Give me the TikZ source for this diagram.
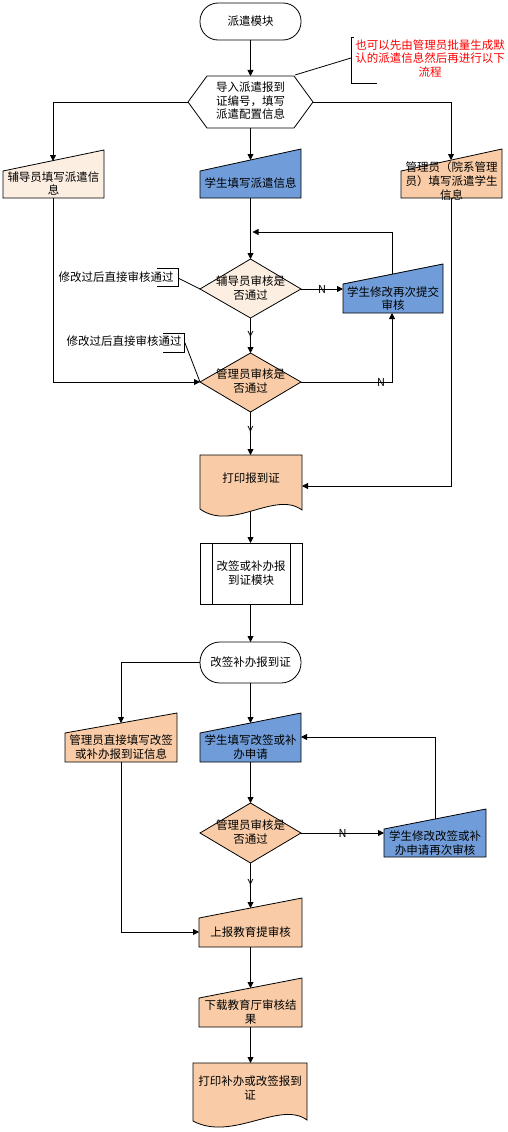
\documentclass[tikz,border=0pt]{standalone}
\usepackage{fontspec}
\newfontfamily\cjk{Noto Sans CJK SC}
\usetikzlibrary{arrows.meta}
\definecolor{sblue}{RGB}{112,157,217}
\definecolor{speach}{RGB}{249,204,167}
\definecolor{slight}{RGB}{253,238,226}
\begin{document}
\begin{tikzpicture}[x=1pt,y=-1pt,
  shp/.style={draw=black,line width=0.8pt},
  txt/.style={align=center,font=\cjk\fontsize{11.5}{13.6}\selectfont,inner sep=0pt},
  yn/.style={font=\cjk\fontsize{11}{12}\selectfont,inner sep=0.5pt},
  ln/.style={line width=0.8pt},
  arr/.style={line width=0.8pt,-{Triangle[length=6pt,width=6pt]}}]
\useasboundingbox (0,0) rectangle (507,1132);
\fill[white] (0,0) rectangle (507,1132);

% ---------- shapes ----------
% start terminal
\filldraw[shp,fill=white,rounded corners=18pt] (200,3) rectangle (301,40);
\node[txt] (tstart) at (250.5,21.5) {派遣模块};
% hexagon
\filldraw[shp,fill=white] (188,102) -- (207,76) -- (294,76) -- (313,102) -- (294,128) -- (207,128) -- cycle;
\node[txt] (thex) at (250.5,101) {导入派遣报到\\证编号，填写\\派遣配置信息};
% red note
\draw[ln] (354,37) -- (351,37) -- (351,83) -- (377,83);
\node[txt,text=red] (tnote) at (430,58.5) {也可以先由管理员批量生成默\\认的派遣信息然后再进行以下\\流程};
% three input boxes
\filldraw[shp,fill=slight] (3,171) -- (104,150) -- (104,198) -- (3,198) -- cycle;
\node[txt] (tfdy) at (53.5,183.5) {辅导员填写派遣信\\息};
\filldraw[shp,fill=sblue] (200,171) -- (301,149) -- (301,198) -- (200,198) -- cycle;
\node[txt] (tstu) at (250.5,183.5) {学生填写派遣信息};
\filldraw[shp,fill=speach] (401,171) -- (502,149) -- (502,198) -- (401,198) -- cycle;
\node[txt] (tadm) at (451.5,181) {管理员（院系管理\\员）填写派遣学生\\信息};
% diamond 1
\filldraw[shp,fill=slight] (200,289) -- (250.5,259) -- (301,289) -- (250.5,318) -- cycle;
\node[txt] (td1) at (250.5,288) {辅导员审核是\\否通过};
% resubmit box
\filldraw[shp,fill=sblue] (343,284) -- (443,264) -- (443,313) -- (343,313) -- cycle;
\node[txt] (tres) at (393,298.5) {学生修改再次提交\\审核};
% diamond 2
\filldraw[shp,fill=speach] (200,382) -- (250.5,353) -- (301,382) -- (250.5,412) -- cycle;
\node[txt] (td2) at (250.5,381) {管理员审核是\\否通过};
% annotations
\draw[ln] (157,268) -- (178,268) -- (178,286) -- (157,286);
\node[txt] (tann1) at (116,277) {修改过后直接审核通过};
\draw[ln] (163,333) -- (184,333) -- (184,352) -- (163,352);
\node[txt] (tann2) at (124,341) {修改过后直接审核通过};
% document 1
\filldraw[shp,fill=speach] (200,455) -- (302,455) -- (302,510) .. controls (275,490) and (232,532) .. (200,509) -- cycle;
\node[txt] (tdoc1) at (251,478) {打印报到证};
% subprocess
\filldraw[shp,fill=white] (200,543) rectangle (302,604);
\draw[ln] (212,543) -- (212,604);
\draw[ln] (290,543) -- (290,604);
\node[txt] (tsub) at (251,573) {改签或补办报\\到证模块};
% terminal 2
\filldraw[shp,fill=white,rounded corners=20pt] (200,642) rectangle (301,683);
\node[txt] (tterm2) at (250.5,662.5) {改签补办报到证};
% boxes row 2
\filldraw[shp,fill=speach] (65,733) -- (177,713) -- (177,762) -- (65,762) -- cycle;
\node[txt] (tadm2) at (121,747) {管理员直接填写改签\\或补办报到证信息};
\filldraw[shp,fill=sblue] (200,733) -- (301,713) -- (301,762) -- (200,762) -- cycle;
\node[txt] (tstu2) at (250.5,747) {学生填写改签或补\\办申请};
% diamond 3
\filldraw[shp,fill=speach] (200,833) -- (250.5,803) -- (301,833) -- (250.5,863) -- cycle;
\node[txt] (td3) at (250.5,832) {管理员审核是\\否通过};
\filldraw[shp,fill=sblue] (384,829) -- (486,809) -- (486,857) -- (384,857) -- cycle;
\node[txt] (tres2) at (435,843) {学生修改改签或补\\办申请再次审核};
% report boxes
\filldraw[shp,fill=speach] (199,918) -- (302,898) -- (302,947) -- (199,947) -- cycle;
\node[txt] (trep) at (250.5,932) {上报教育提审核};
\filldraw[shp,fill=speach] (199,998) -- (302,978) -- (302,1027) -- (199,1027) -- cycle;
\node[txt] (tdown) at (250.5,1012) {下载教育厅审核结\\果};
% document 2
\filldraw[shp,fill=speach] (193,1063) -- (307,1063) -- (307,1120) .. controls (280,1100) and (232,1142) .. (193,1121) -- cycle;
\node[txt] (tdoc2) at (250,1088) {打印补办或改签报到\\证};

% ---------- connection points ----------
\coordinate (sB) at (250.5,40);
\coordinate (hT) at (250.5,76);
\coordinate (hL) at (188,102);
\coordinate (hR) at (313,102);
\coordinate (hB) at (250.5,128);
\coordinate (hTR) at (295,75);
\coordinate (nL) at (351,58);
\coordinate (kL) at (53,102);
\coordinate (fT) at (53,161);
\coordinate (fB) at (53,198);
\coordinate (sT) at (250.5,160);
\coordinate (sBt) at (250.5,198);
\coordinate (kR) at (451,102);
\coordinate (aT) at (451,160);
\coordinate (aB) at (451,198);
\coordinate (loopJ) at (250.5,232);
\coordinate (loopC) at (392,232);
\coordinate (rT) at (392,274);
\coordinate (rB) at (392,313);
\coordinate (rL) at (343,289);
\coordinate (d1T) at (250.5,259);
\coordinate (d1R) at (301,289);
\coordinate (d1B) at (250.5,318);
\coordinate (d1L) at (200,289);
\coordinate (d2T) at (250.5,353);
\coordinate (d2R) at (301,382);
\coordinate (d2B) at (250.5,412);
\coordinate (d2L) at (200,382);
\coordinate (kD2R) at (392,382);
\coordinate (kFL) at (53,382);
\coordinate (a1) at (178,278);
\coordinate (a2) at (185,343);
\coordinate (doc1T) at (250.5,455);
\coordinate (doc1R) at (302,486);
\coordinate (kAR) at (451,486);
\coordinate (doc1B) at (250.5,512);
\coordinate (subT) at (250.5,543);
\coordinate (subB) at (250.5,604);
\coordinate (t2T) at (250.5,642);
\coordinate (t2L) at (200,662);
\coordinate (t2B) at (250.5,683);
\coordinate (kT2) at (121,662);
\coordinate (adm2T) at (121,723);
\coordinate (adm2B) at (121,762);
\coordinate (stu2T) at (250.5,723);
\coordinate (stu2B) at (250.5,762);
\coordinate (stu2R) at (301,737);
\coordinate (d3T) at (250.5,803);
\coordinate (d3R) at (301,833);
\coordinate (d3B) at (250.5,863);
\coordinate (r2L) at (384,833);
\coordinate (r2T) at (435,819);
\coordinate (kR2) at (435,737);
\coordinate (kRep) at (121,932);
\coordinate (repL) at (199,932);
\coordinate (repT) at (250.5,908);
\coordinate (repB) at (250.5,947);
\coordinate (downT) at (250.5,988);
\coordinate (downB) at (250.5,1027);
\coordinate (doc2T) at (250.5,1063);

% ---------- connectors ----------
\draw[arr] (sB) -- (hT);
\draw[ln] (nL) -- (hTR);
\draw[arr] (hL) -- (kL) -- (fT);
\draw[arr] (hB) -- (sT);
\draw[arr] (hR) -- (kR) -- (aT);
\draw[arr] (sBt) -- (d1T);
\draw[arr] (rT) -- (loopC) -- ([xshift=2pt]loopJ);
\draw[arr] (d1R) -- node[yn] (n1) {N} (rL);
\draw[arr] (d1B) -- node[yn] (y1) {Y} (d2T);
\draw[arr] (d2R) -- node[yn,pos=0.88] (n2) {N} (kD2R) -- (rB);
\draw[arr] (fB) -- (kFL) -- (d2L);
\draw[ln] (a1) -- (d1L);
\draw[ln] (a2) -- (d2L);
\draw[arr] (d2B) -- node[yn,pos=0.42] (y2) {Y} (doc1T);
\draw[arr] (aB) -- (kAR) -- (doc1R);
\draw[arr] (doc1B) -- (subT);
\draw[arr] (subB) -- (t2T);
\draw[arr] (t2L) -- (kT2) -- (adm2T);
\draw[arr] (t2B) -- (stu2T);
\draw[arr] (stu2B) -- (d3T);
\draw[arr] (d3R) -- node[yn,pos=0.5] (n3) {N} (r2L);
\draw[arr] (r2T) -- (kR2) -- (stu2R);
\draw[arr] (adm2B) -- (kRep) -- (repL);
\draw[arr] (d3B) -- node[yn,pos=0.45] (y3) {Y} (repT);
\draw[arr] (repB) -- (downT);
\draw[arr] (downB) -- (doc2T);
\end{tikzpicture}
\end{document}
